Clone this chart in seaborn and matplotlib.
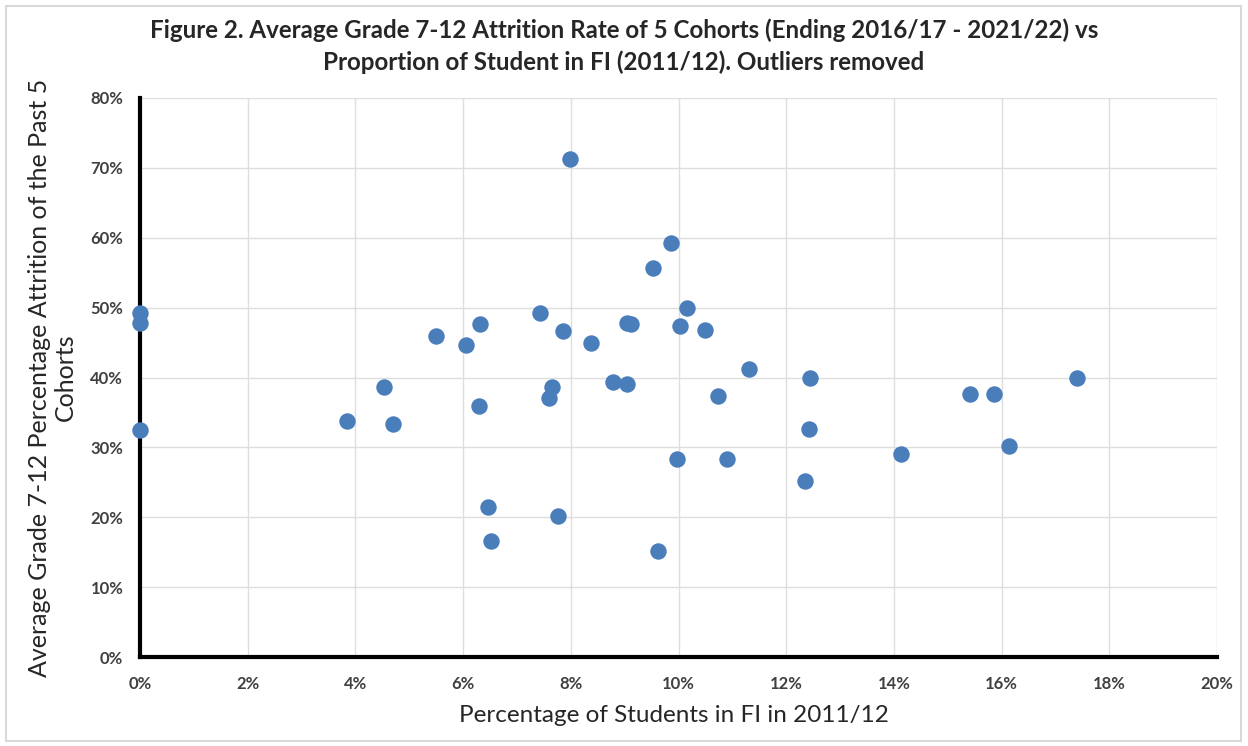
import numpy as np
import pandas as pd
import seaborn as sns
import matplotlib.pyplot as plt
from matplotlib.ticker import FuncFormatter, MultipleLocator
from matplotlib.patches import Rectangle

# share of students in French Immersion, 2011/12 (%)
fi_share = [
    0.0, 0.0, 0.0, 3.84, 4.54, 4.69, 5.50, 6.05, 6.32, 6.30,
    6.46, 6.51, 7.43, 7.59, 7.65, 7.76, 7.86, 7.99, 8.37, 8.79,
    9.04, 9.05, 9.12, 9.52, 9.62, 9.86, 9.98, 10.03, 10.16, 10.50,
    10.73, 10.90, 11.30, 12.34, 12.45, 12.42, 14.14, 15.41, 15.86, 16.13,
    17.40,
]
# average grade 7-12 attrition of the past 5 cohorts (%)
attrition = [
    49.2, 47.8, 32.5, 33.8, 38.6, 33.4, 45.9, 44.7, 47.6, 35.9,
    21.4, 16.6, 49.2, 37.0, 38.6, 20.2, 46.7, 71.3, 45.0, 39.3,
    39.1, 47.8, 47.6, 55.7, 15.1, 59.2, 28.4, 47.4, 50.0, 46.8,
    37.4, 28.3, 41.2, 25.2, 39.9, 32.7, 29.0, 37.7, 37.7, 30.2,
    39.9,
]

title = ('Figure 2. Average Grade 7-12 Attrition Rate of 5 Cohorts (Ending 2016/17 - 2021/22) vs\n'
         'Proportion of Student in FI (2011/12). Outliers removed')
xlabel = 'Percentage of Students in FI in 2011/12'
ylabel = 'Average Grade 7-12 Percentage Attrition of the Past 5\nCohorts'

df = pd.DataFrame({'fi': fi_share, 'attrition': attrition})

sns.set_theme(style='white')
plt.rcParams['font.family'] = ['Lato', 'DejaVu Sans']

fig = plt.figure(figsize=(12.48, 7.46), dpi=100)
ax = fig.add_axes([140 / 1248, 1 - 657 / 746, 1077 / 1248, 559 / 746])

fig.patches.append(Rectangle((6 / 1248, 5 / 746), 1235 / 1248, 735 / 746,
                             transform=fig.transFigure, fill=False,
                             edgecolor='#d9d9d9', linewidth=1.5))

sns.scatterplot(data=df, x='fi', y='attrition', color='#4a7ebb', s=140,
                linewidth=0, alpha=1, clip_on=False, zorder=5, ax=ax)

ax.set_xlim(0, 20)
ax.set_ylim(0, 80)
ax.xaxis.set_major_locator(MultipleLocator(2))
ax.yaxis.set_major_locator(MultipleLocator(10))
pct = FuncFormatter(lambda v, pos: '{:.0f}%'.format(v))
ax.xaxis.set_major_formatter(pct)
ax.yaxis.set_major_formatter(pct)

ax.grid(True, color='#dedede', linewidth=1)
ax.set_axisbelow(True)
for side in ('top', 'right'):
    ax.spines[side].set_visible(False)
for side in ('left', 'bottom'):
    ax.spines[side].set_visible(True)
    ax.spines[side].set_color('black')
    ax.spines[side].set_linewidth(3)
    ax.spines[side].set_zorder(3)

ax.tick_params(axis='both', length=0, labelsize=12)
ax.tick_params(axis='x', pad=14)
ax.tick_params(axis='y', pad=12)
for lab in ax.get_xticklabels() + ax.get_yticklabels():
    lab.set_fontweight('bold')
    lab.set_color('#404040')

ax.set_xlabel(xlabel, fontsize=17.5, color='#262626')
ax.set_ylabel(ylabel, fontsize=18, color='#262626', linespacing=1.15)
ax.xaxis.set_label_coords(0.496, -0.104)
ax.xaxis.label.set_va('center')
ax.yaxis.set_label_coords(-0.081, 0.5)
ax.yaxis.label.set_va('center')

fig.text(0.5, 1 - 46 / 746, title, ha='center', va='center',
         fontsize=17.4, fontweight='bold', color='#262626', linespacing=1.4)

fig.savefig('out.png', dpi=100, facecolor='white')
